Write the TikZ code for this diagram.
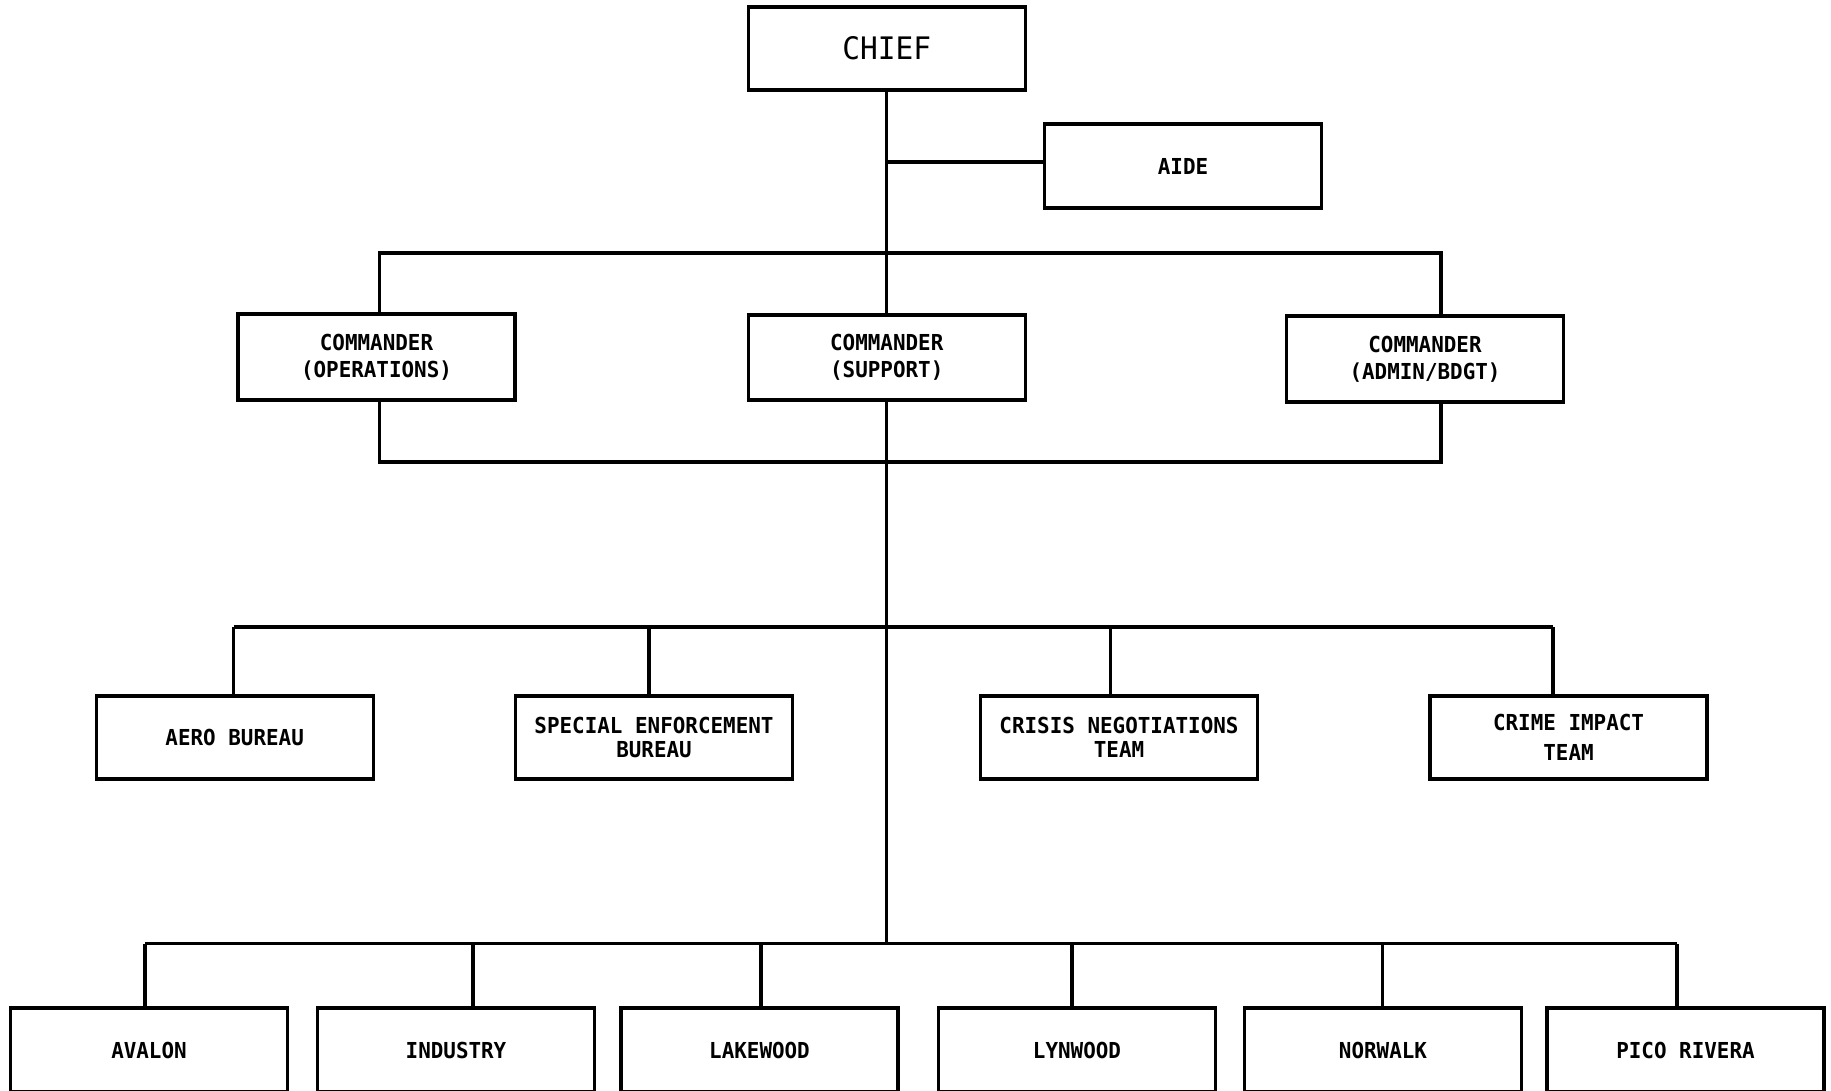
\documentclass[tikz,border=0pt]{standalone}
\usepackage{fontspec}
\setmainfont{DejaVu Sans Mono}
\newfontfamily\plotfont[FakeStretch=0.95]{DejaVu Sans Mono}
\begin{document}
\begin{tikzpicture}[x=0.5pt,y=-0.5pt,
  line width=1.6pt,
  box/.style={draw, line width=1.6pt, inner sep=0pt, minimum width=138.5pt, minimum height=42pt,
    align=center, font=\plotfont\bfseries\fontsize{11}{13.4}\selectfont},
  bigbox/.style={box, font=\plotfont\fontsize{15.5}{18}\selectfont},
  link/.style={line width=1.6pt}]
\useasboundingbox (0,0) rectangle (1831,1091);
\clip (0,0) rectangle (1831,1091);
% level 0/1
\node[bigbox, minimum height=41.5pt] (chief) at (886.75,48.5) {CHIEF};
\node[box] (aide) at (1183,166) {AIDE};
% commanders
\node[box, minimum height=43pt] (ops) at (376.5,357) {COMMANDER\\(OPERATIONS)};
\node[box, minimum height=42.5pt] (sup) at (886.75,357.5) {COMMANDER\\(SUPPORT)};
\node[box, minimum height=43pt] (adm) at (1425,359) {COMMANDER\\(ADMIN/BDGT)};
% level 3
\node[box, minimum height=41.5pt] (aero) at (234.7,737.5) {AERO BUREAU};
\node[box, minimum height=41.5pt, font=\plotfont\bfseries\fontsize{11}{11.7}\selectfont] (spec) at (654,737.5) {SPECIAL ENFORCEMENT\\BUREAU};
\node[box, minimum height=41.5pt, font=\plotfont\bfseries\fontsize{11}{11.7}\selectfont] (cris) at (1119,737.5) {CRISIS NEGOTIATIONS\\TEAM};
\node[box, minimum height=41.5pt, font=\plotfont\bfseries\fontsize{11}{15}\selectfont] (crim) at (1568.5,737.5) {CRIME IMPACT\\TEAM};
% level 4
\node[box] (aval) at (149,1050) {AVALON};
\node[box] (indu) at (456,1050) {INDUSTRY};
\node[box] (lake) at (759.5,1050) {LAKEWOOD};
\node[box] (lynw) at (1077,1050) {LYNWOOD};
\node[box] (norw) at (1383,1050) {NORWALK};
\node[box] (pico) at (1685.5,1050) {PICO RIVERA};
% coordinates
\coordinate (aj) at (886.75,162);
\coordinate (tl) at (379.5,253);
\coordinate (tr) at (1441,253);
\coordinate (bl) at (379.5,462);
\coordinate (br) at (1441,462);
\coordinate (r3) at (886.75,627);
\coordinate (r4) at (886.75,943.5);
% chief trunk
\draw[link] (chief.south) -- (sup.north);
\draw[link] (aj) -- (aj -| aide.west);
% commander loop
\draw[link] (ops.north -| tl) -- (tl) -- (tr) -- (adm.north -| tr);
\draw[link] (ops.south -| bl) -- (bl) -- (br) -- (adm.south -| br);
% trunk down
\draw[link] (sup.south) -- (r4);
% level 3 bus
\draw[link] (233.5,627) -- (1553,627);
\draw[link] (233.5,627) -- (aero.north -| 233.5,0);
\draw[link] (649,627) -- (spec.north -| 649,0);
\draw[link] (1110.5,627) -- (cris.north -| 1110.5,0);
\draw[link] (1553,627) -- (crim.north -| 1553,0);
% level 4 bus
\draw[link] (145,943.5) -- (1677,943.5);
\draw[link] (145,943.5) -- (aval.north -| 145,0);
\draw[link] (473,943.5) -- (indu.north -| 473,0);
\draw[link] (761,943.5) -- (lake.north -| 761,0);
\draw[link] (1072,943.5) -- (lynw.north -| 1072,0);
\draw[link] (1382.5,943.5) -- (norw.north -| 1382.5,0);
\draw[link] (1677,943.5) -- (pico.north -| 1677,0);
\end{tikzpicture}
\end{document}
